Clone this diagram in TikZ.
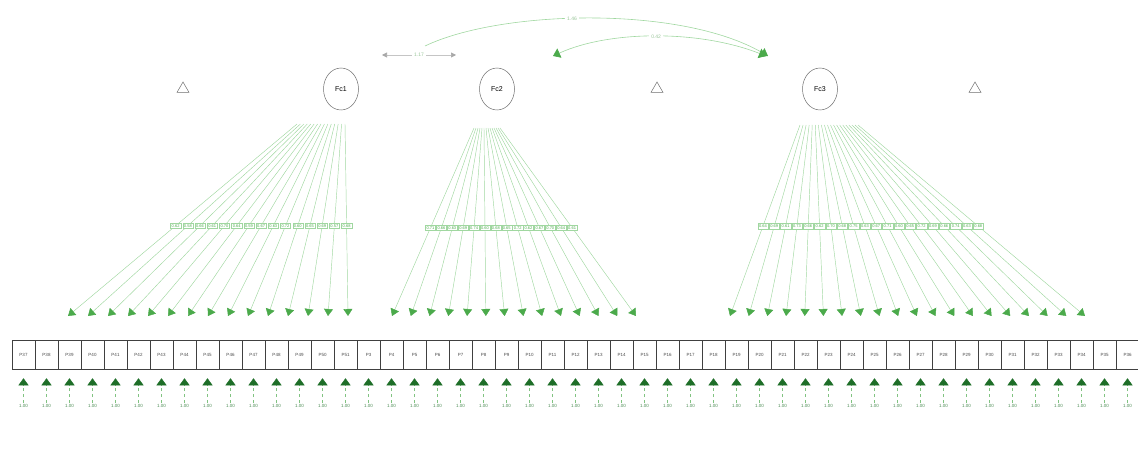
\documentclass[tikz,border=0pt]{standalone}
\usepackage{fontspec}
\setmainfont{Liberation Sans}
\usetikzlibrary{arrows.meta,shapes}
\definecolor{lgreen}{RGB}{160,215,160}
\definecolor{mgreen}{RGB}{75,170,75}
\definecolor{dgreen}{RGB}{30,110,40}
\definecolor{lgray}{RGB}{110,110,110}
\tikzset{
 fac/.style={ellipse,draw=lgray,line width=0.5pt,minimum width=35pt,minimum height=42pt,inner sep=0pt,font=\fontsize{7}{7}\selectfont},
 icept/.style={regular polygon,regular polygon sides=3,draw=lgray,line width=0.5pt,minimum size=14pt,inner sep=0pt},
 var/.style={rectangle,draw=black!75,line width=0.5pt,minimum width=23pt,minimum height=29pt,inner sep=0pt,text=black!70,font=\fontsize{4.5}{4.5}\selectfont},
 thr/.style={inner sep=1pt,text=dgreen!80,font=\fontsize{4.5}{4.5}\selectfont},
 load/.style={draw=lgreen,line width=0.45pt,-{Triangle[width=9pt,length=7pt,color=mgreen]}},
 lab/.style={draw=lgreen,fill=white,line width=0.3pt,inner sep=1.2pt,text=mgreen,font=\fontsize{4}{4}\selectfont},
 resid/.style={draw=mgreen!70,dashed,line width=0.45pt,shorten >=9pt,-{Triangle[width=10pt,length=7pt,color=dgreen]}},
 cov/.style={draw=lgreen,line width=0.6pt},
 covlab/.style={fill=white,inner sep=2pt,text=lgreen!80!gray,font=\fontsize{5}{5}\selectfont}
}
\begin{document}
\begin{tikzpicture}[x=1pt,y=-1pt]
\useasboundingbox (0,0) rectangle (1138,449);
\node[icept] (t1) at (183,89) {};
\node[icept] (t2) at (657,89) {};
\node[icept] (t3) at (975,89) {};
\node[fac] (fc1) at (341,89) {Fc1};
\node[fac] (fc2) at (497,89) {Fc2};
\node[fac] (fc3) at (820,89) {Fc3};

% factor covariances
\coordinate (k1) at (382,55);
\coordinate (k2) at (456,55);
\coordinate (a1) at (425,46);
\coordinate (a2) at (768,56);
\coordinate (b1) at (553,56);
\coordinate (b2) at (766,56);
\draw[cov,draw=lgray!40,{Triangle[width=5pt,length=5pt,color=lgray!60]}-{Triangle[width=5pt,length=5pt,color=lgray!60]}]
 (k1) -- node[covlab] (c12) {1.17} (k2);
\draw[cov,-{Triangle[width=10pt,length=7pt,color=mgreen]}]
 (a1) .. controls (500,10) and (680,5) .. node[covlab,pos=.45] (c13) {1.46} (a2);
\draw[cov,{Triangle[width=10pt,length=7pt,color=mgreen]}-{Triangle[width=10pt,length=7pt,color=mgreen]}]
 (b1) .. controls (610,30) and (700,30) .. node[covlab] (c23) {0.42} (b2);

% loadings
\foreach \i in {1,...,15}{
 \coordinate (s1-\i) at ({297+48*(\i-1)/14},124);
 \coordinate (e1-\i) at ({68+20*(\i-1)},316);
 \draw[load] (s1-\i) -- (e1-\i);
}
\foreach \i in {1,...,14}{
 \coordinate (s2-\i) at ({474+26*(\i-1)/13},128);
 \coordinate (e2-\i) at ({392+244*(\i-1)/13},316);
 \draw[load] (s2-\i) -- (e2-\i);
}
\foreach \i in {1,...,20}{
 \coordinate (s3-\i) at ({800+58*(\i-1)/19},125);
 \coordinate (e3-\i) at ({730+355*(\i-1)/19},316);
 \draw[load] (s3-\i) -- (e3-\i);
}
\foreach \v [count=\i] in {0.62,0.58,0.66,0.61,0.70,0.64,0.59,0.67,0.63,0.72,0.60,0.65,0.69,0.57,0.68}
 \path (s1-\i) -- node[lab,pos=.53] (l1-\i) {\v} (e1-\i);
\foreach \v [count=\i] in {0.71,0.66,0.63,0.69,0.74,0.60,0.68,0.65,0.72,0.62,0.67,0.70,0.64,0.61}
 \path (s2-\i) -- node[lab,pos=.53] (l2-\i) {\v} (e2-\i);
\foreach \v [count=\i] in {0.64,0.69,0.61,0.73,0.66,0.62,0.70,0.68,0.75,0.63,0.67,0.71,0.60,0.65,0.72,0.69,0.66,0.74,0.63,0.68}
 \path (s3-\i) -- node[lab,pos=.53] (l3-\i) {\v} (e3-\i);

% items and residuals
\foreach \i [evaluate=\i as \n using {int(\i<16 ? \i+36 : \i-13)}] in {1,...,49}{
 \node[var] (v\i) at ({0.5+23*\i},354.5) {P\n};
 \node[thr] (r\i) at ({0.5+23*\i},406) {1.00};
 \draw[resid] (r\i) -- (v\i);
}
\end{tikzpicture}
\end{document}
